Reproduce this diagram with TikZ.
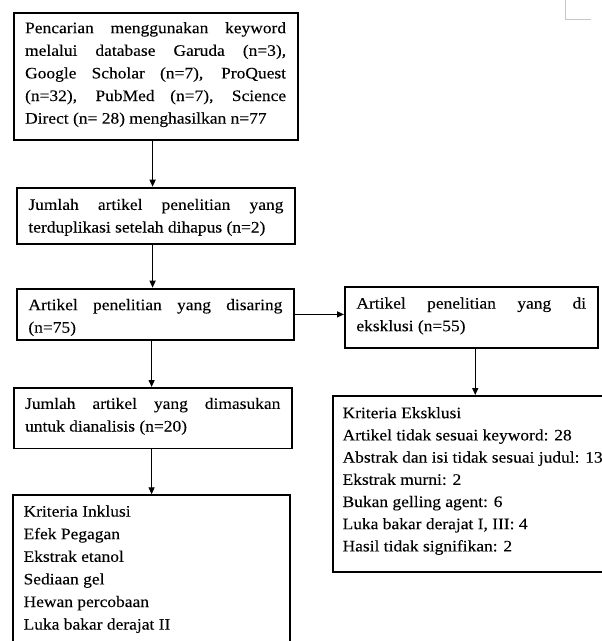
\documentclass[tikz,border=0pt]{standalone}
\usepackage{fontspec}
\setmainfont{Liberation Serif}[FakeStretch=1.09,FakeBold=0.1]
\usetikzlibrary{arrows.meta}
\newcommand{\jl}[1]{\makebox[\linewidth][s]{#1}}
\newcommand{\bx}[4]{\parbox[c][#1][t]{#2}{\rule{0pt}{#3}#4}}
\begin{document}
\begin{tikzpicture}[x=1pt,y=-1pt,
  flowbox/.style={draw=black, line width=1.8pt, inner xsep=11.5pt, inner ysep=0pt,
    anchor=north west, font=\fontsize{16}{22.6}\selectfont},
  arr/.style={line width=1.3pt, -{Triangle[length=7pt,width=6pt]}},
  pagemark/.style={draw=black!22, line width=1pt}]
\useasboundingbox (0,0) rectangle (602,641);
\clip (0,0) rectangle (602,641);
\fill[white] (0,0) rectangle (602,641);
% page corner mark
\draw[pagemark] (565,0) -- (565,19.3) -- (591,19.3);
% boxes
\node[flowbox] (b1) at (12.7,11.7) {\bx{127.6pt}{261pt}{20.6pt}{\jl{Pencarian menggunakan keyword}\\\jl{melalui database Garuda (n=3),}\\\jl{Google Scholar (n=7), ProQuest}\\\jl{(n=32), PubMed (n=7), Science}\\Direct (n= 28) menghasilkan n=77}};
\node[flowbox] (b2) at (16,186.7) {\bx{56.3pt}{255pt}{22.3pt}{\jl{Jumlah artikel penelitian yang}\\terduplikasi setelah dihapus (n=2)}};
\node[flowbox] (b3) at (16,287.7) {\bx{51.6pt}{254pt}{21.5pt}{\jl{Artikel penelitian yang disaring}\\(n=75)}};
\node[flowbox] (b4) at (344,286) {\bx{61.3pt}{229.7pt}{21.7pt}{\jl{Artikel penelitian yang di}\\eksklusi (n=55)}};
\node[flowbox, inner xsep=10pt] (b5) at (331.7,395) {\bx{175.7pt}{260.3pt}{22.3pt}{\baselineskip=22.2pt Kriteria Eksklusi\\Artikel tidak sesuai keyword: 28\\Abstrak dan isi tidak sesuai judul: 13\\Ekstrak murni: 2\\Bukan gelling agent: 6\\Luka bakar derajat I, III: 4\\Hasil tidak signifikan: 2}};
\node[flowbox] (b6) at (12.7,387) {\bx{60.5pt}{255.3pt}{21pt}{\jl{Jumlah artikel yang dimasukan}\\untuk dianalisis (n=20)}};
\node[flowbox, inner xsep=10.4pt] (b7) at (12.3,494.3) {\bx{170pt}{256.2pt}{21.4pt}{Kriteria Inklusi\\Efek Pegagan\\Ekstrak etanol\\Sediaan gel\\Hewan percobaan\\Luka bakar derajat II}};
% connectors
\draw[arr] ([xshift=-3pt]b1.south) -- ([xshift=-3pt]b1.south |- b2.north);
\draw[arr] ([xshift=-3.3pt]b2.south) -- ([xshift=-3.3pt]b2.south |- b3.north);
\draw[arr] ([xshift=-3.8pt]b3.south) -- ([xshift=-3.8pt]b3.south |- b6.north);
\draw[arr] ([xshift=-1.15pt]b6.south) -- ([xshift=-1.15pt]b6.south |- b7.north);
\draw[arr] (b3.east) -- (b3.east -| b4.west);
\draw[arr] ([xshift=4pt]b4.south) -- ([xshift=4pt]b4.south |- b5.north);
\end{tikzpicture}
\end{document}
